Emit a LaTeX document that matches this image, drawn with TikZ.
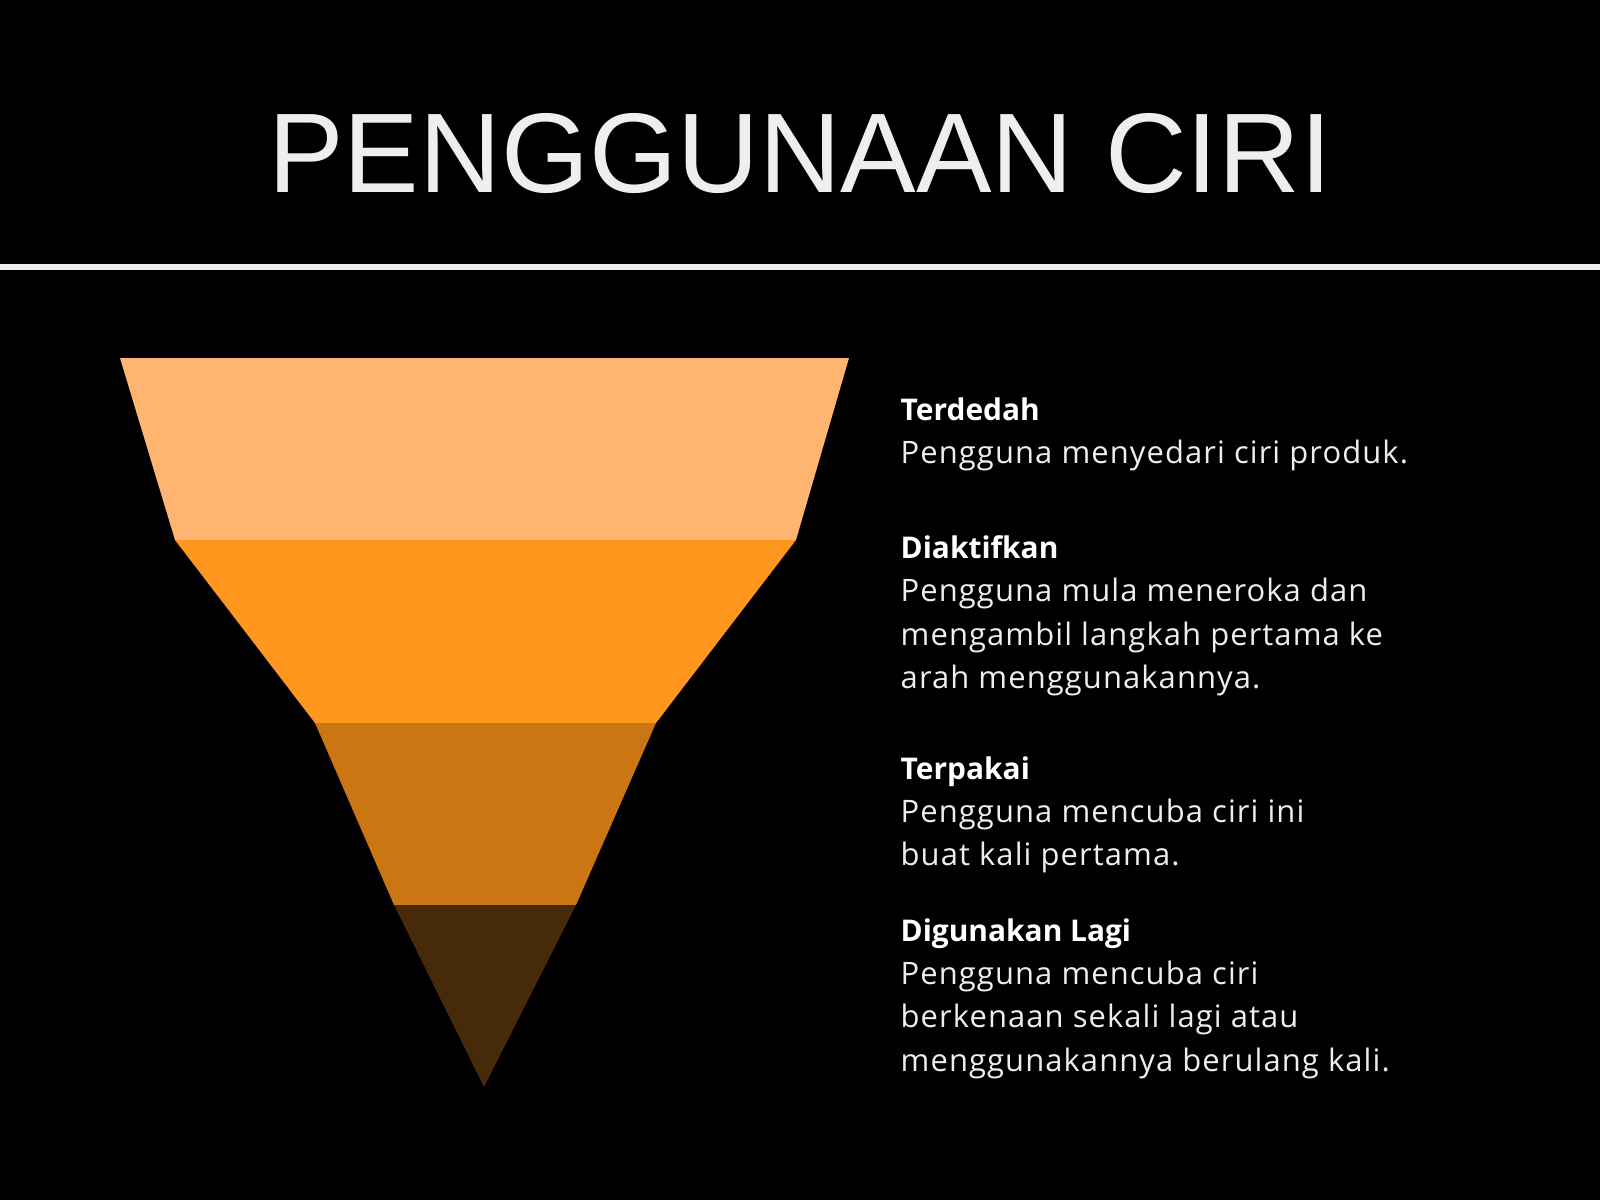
\documentclass[tikz,border=0pt]{standalone}
\usepackage{fontspec}
\setmainfont{Open Sans}
\newfontfamily\titlefont{Liberation Sans}
\newfontfamily\bodyfont[LetterSpace=3.5]{Open Sans}
\newfontfamily\headfont{Open Sans}
\usetikzlibrary{positioning}
\definecolor{inkA}{HTML}{FFB570}
\definecolor{inkB}{HTML}{FF971F}
\definecolor{inkC}{HTML}{CB7513}
\definecolor{inkD}{HTML}{472A0A}
\definecolor{paper}{HTML}{EEEEEE}
\newcommand{\headline}[1]{{\headfont\bfseries\fontsize{8.5}{12.3}\selectfont\color{white}#1}}

\begin{document}
\begin{tikzpicture}[x=0.01cm,y=-0.01cm,
                    title/.style={text=paper,inner sep=0pt,
                      font=\titlefont\fontsize{32.2}{39}\selectfont},
                    stage/.style={text=paper,inner sep=0pt,anchor=north west,align=left,
                      font=\bodyfont\fontsize{8.8}{12.3}\selectfont}]

  \fill[black] (0,0) rectangle (1600,1200);
  \useasboundingbox (0,0) rectangle (1600,1200);

  \node[title] (T) at (800,154) {PENGGUNAAN CIRI};
  \coordinate (rl) at (0,267);
  \coordinate (rr) at (1600,267);
  \draw[paper,line width=0.6mm] (rl) -- (rr);

  \coordinate (l0) at (120,358);  \coordinate (r0) at (849,358);
  \coordinate (l1) at (175,540);  \coordinate (r1) at (796,540);
  \coordinate (l2) at (315,723);  \coordinate (r2) at (656,723);
  \coordinate (l3) at (394,905);  \coordinate (r3) at (576,905);
  \coordinate (tip) at (484,1087);

  \fill[inkA] (l0) -- (r0) -- (r1) -- (l1) -- cycle;
  \fill[inkB] (l1) -- (r1) -- (r2) -- (l2) -- cycle;
  \fill[inkC] (l2) -- (r2) -- (r3) -- (l3) -- cycle;
  \fill[inkD] (l3) -- (r3) -- (tip) -- cycle;

  \node[stage] (s1) at (900,397) {\headline{Terdedah}\\
    Pengguna menyedari ciri produk.};
  \node[stage] (s2) at (900,535) {\headline{Diaktifkan}\\
    Pengguna mula meneroka dan\\
    mengambil langkah pertama ke\\ arah menggunakannya.};
  \node[stage] (s3) at (900,756) {\headline{Terpakai}\\
    Pengguna mencuba ciri ini\\ buat kali pertama.};
  \node[stage] (s4) at (900,918) {\headline{Digunakan Lagi}\\
    Pengguna mencuba ciri\\
    berkenaan sekali lagi atau\\ menggunakannya berulang kali.};
\end{tikzpicture}
\end{document}
